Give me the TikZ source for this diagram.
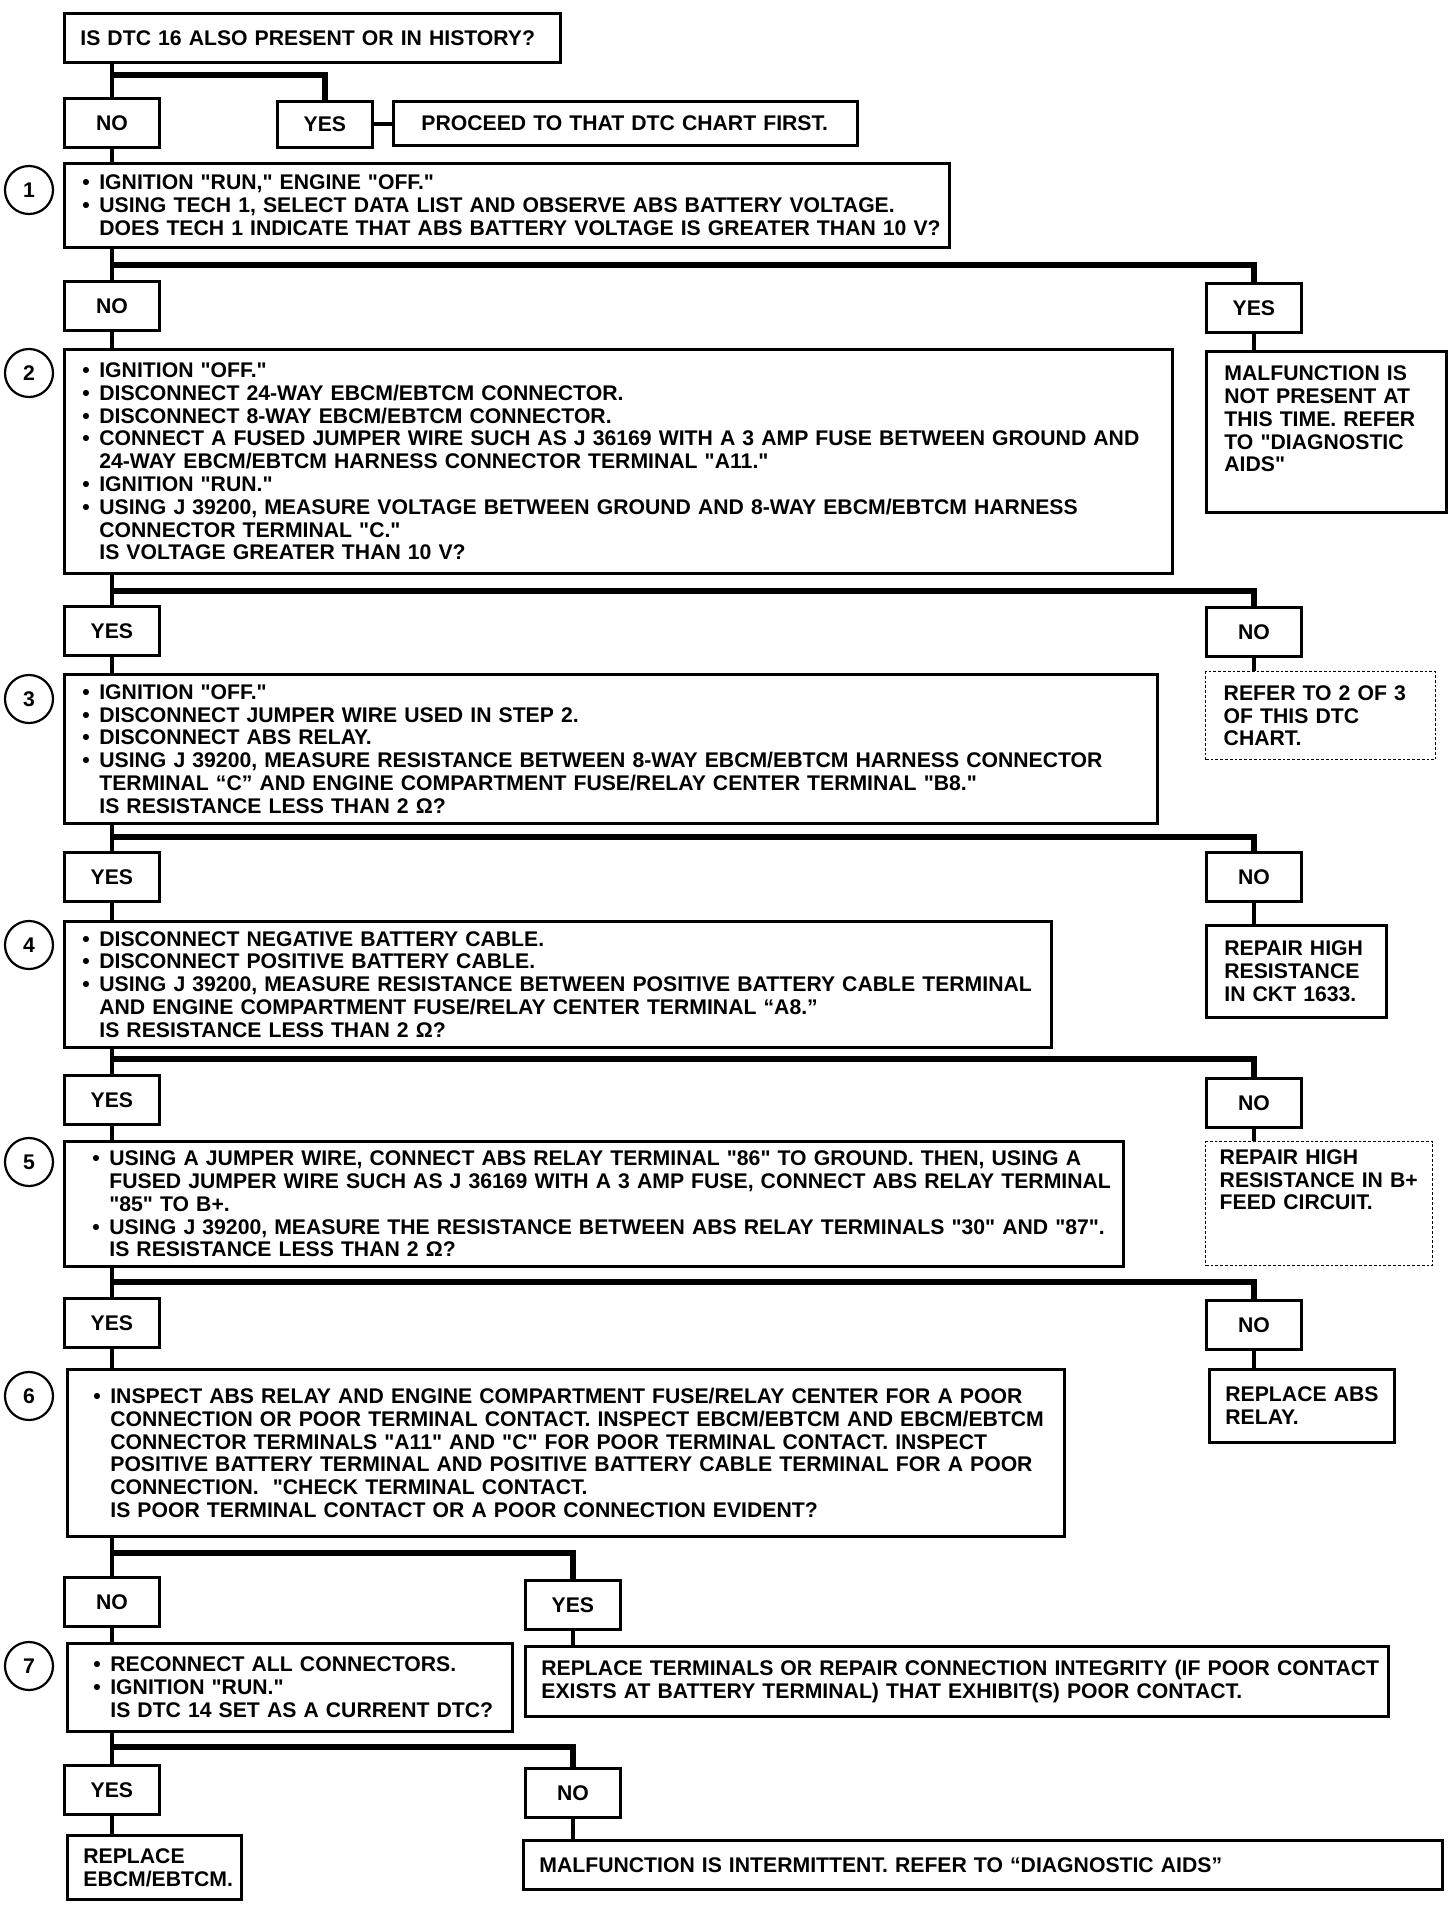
\documentclass[tikz,border=0pt]{standalone}
\usepackage{fontspec}
\setmainfont{Liberation Sans}[Ligatures=TeXOff]
\usepackage{tikz}
\usetikzlibrary{positioning}

\newcommand{\blt}[1]{\mbox{\makebox[0.8em][l]{•}#1}}
\newcommand{\cnt}[1]{\mbox{\hspace*{0.8em}#1}}

\begin{document}
\begin{tikzpicture}[x=0.5pt, y=-0.5pt,
    every node/.style={font=\bfseries\fontsize{10.6}{11.4}\selectfont},
    box/.style={draw, line width=1.4pt, anchor=north west, align=left, inner ysep=2pt},
    dbox/.style={box, densely dotted, line width=0.7pt},
    yn/.style={draw, line width=1.4pt, anchor=north west, minimum width=47.5pt, minimum height=24.5pt, inner sep=0pt},
    num/.style={draw, circle, line width=1.1pt, minimum size=24pt, inner sep=0pt},
    wire/.style={line width=2pt},
    branch/.style={line width=2.6pt}]
        \useasboundingbox (0,0) rectangle (1456,1908);

        % start
        \node (q0) [box, text width=232pt, minimum height=24.5pt, inner xsep=8pt] at (63,12) {IS DTC 16 ALSO PRESENT OR IN HISTORY?};
        \node (no0) [yn] at (63,97) {NO};
        \node (yes0) [yn, minimum height=23pt] at (276,100) {YES};
        \node (proceed) [box, text width=204pt, minimum height=22pt, inner xsep=14pt] at (392,100) {PROCEED TO THAT DTC CHART FIRST.};

        % step 1
        \node (s1) [num] at (29,190) {1};
        \node (box1) [box, text width=424.5pt, minimum height=42pt, inner xsep=9pt] at (63,162)
            {\blt{IGNITION "RUN," ENGINE "OFF."}\\
             \blt{USING TECH 1, SELECT DATA LIST AND OBSERVE ABS BATTERY VOLTAGE.}\\
             \cnt{DOES TECH 1 INDICATE THAT ABS BATTERY VOLTAGE IS GREATER THAN 10 V?}};
        \node (no1) [yn] at (63,280) {NO};
        \node (yes1) [yn] at (1205,282) {YES};
        \node (mal1) [box, text width=102pt, minimum height=80.5pt, inner xsep=9pt] at (1205,350)
            {MALFUNCTION IS\\ NOT PRESENT AT\\ THIS TIME. REFER\\ TO "DIAGNOSTIC\\ AIDS"\rule[-13pt]{0pt}{0pt}};

        % step 2
        \node (s2) [num] at (29,373) {2};
        \node (box2) [box, text width=536pt, minimum height=112pt, inner xsep=9pt] at (63,348)
            {\blt{IGNITION "OFF."}\\
             \blt{DISCONNECT 24-WAY EBCM/EBTCM CONNECTOR.}\\
             \blt{DISCONNECT 8-WAY EBCM/EBTCM CONNECTOR.}\\
             \blt{CONNECT A FUSED JUMPER WIRE SUCH AS J 36169 WITH A 3 AMP FUSE BETWEEN GROUND AND}\\
             \cnt{24-WAY EBCM/EBTCM HARNESS CONNECTOR TERMINAL "A11."}\\
             \blt{IGNITION "RUN."}\\
             \blt{USING J 39200, MEASURE VOLTAGE BETWEEN GROUND AND 8-WAY EBCM/EBTCM HARNESS}\\
             \cnt{CONNECTOR TERMINAL "C."}\\
             \cnt{IS VOLTAGE GREATER THAN 10 V?}};
        \node (yes2) [yn] at (63,605) {YES};
        \node (no2) [yn] at (1205,606) {NO};
        \node (refer) [dbox, text width=97pt, minimum height=44pt, inner xsep=9pt] at (1205,671)
            {REFER TO 2 OF 3\\ OF THIS DTC\\ CHART.};

        % step 3
        \node (s3) [num] at (29,699) {3};
        \node (box3) [box, text width=528.5pt, minimum height=74.5pt, inner xsep=9pt] at (63,673)
            {\blt{IGNITION "OFF."}\\
             \blt{DISCONNECT JUMPER WIRE USED IN STEP 2.}\\
             \blt{DISCONNECT ABS RELAY.}\\
             \blt{USING J 39200, MEASURE RESISTANCE BETWEEN 8-WAY EBCM/EBTCM HARNESS CONNECTOR}\\
             \cnt{TERMINAL “C” AND ENGINE COMPARTMENT FUSE/RELAY CENTER TERMINAL "B8."}\\
             \cnt{IS RESISTANCE LESS THAN 2 Ω?}};
        \node (yes3) [yn] at (63,851) {YES};
        \node (no3) [yn] at (1205,851) {NO};
        \node (repair1) [box, text width=72pt, minimum height=46pt, inner xsep=9pt] at (1205,924)
            {REPAIR HIGH\\ RESISTANCE\\ \mbox{IN CKT 1633.}};

        % step 4
        \node (s4) [num] at (29,945) {4};
        \node (box4) [box, text width=475.5pt, minimum height=63pt, inner xsep=9pt] at (63,920)
            {\blt{DISCONNECT NEGATIVE BATTERY CABLE.}\\
             \blt{DISCONNECT POSITIVE BATTERY CABLE.}\\
             \blt{USING J 39200, MEASURE RESISTANCE BETWEEN POSITIVE BATTERY CABLE TERMINAL}\\
             \cnt{AND ENGINE COMPARTMENT FUSE/RELAY CENTER TERMINAL “A8.”}\\
             \cnt{IS RESISTANCE LESS THAN 2 Ω?}};
        \node (yes4) [yn] at (63,1074) {YES};
        \node (no4) [yn] at (1205,1077) {NO};
        \node (repair2) [dbox, text width=99.5pt, minimum height=62pt, inner xsep=7pt] at (1205,1141)
            {REPAIR HIGH\\ \mbox{RESISTANCE IN B+}\\ FEED CIRCUIT.\rule[-24pt]{0pt}{0pt}};

        % step 5
        \node (s5) [num] at (29,1162) {5};
        \node (box5) [box, text width=501.5pt, minimum height=62.5pt, inner xsep=14pt] at (63,1140)
            {\blt{USING A JUMPER WIRE, CONNECT ABS RELAY TERMINAL "86" TO GROUND. THEN, USING A}\\
             \cnt{FUSED JUMPER WIRE SUCH AS J 36169 WITH A 3 AMP FUSE, CONNECT ABS RELAY TERMINAL}\\
             \cnt{"85" TO B+.}\\
             \blt{USING J 39200, MEASURE THE RESISTANCE BETWEEN ABS RELAY TERMINALS "30" AND "87".}\\
             \cnt{IS RESISTANCE LESS THAN 2 Ω?}};
        \node (yes5) [yn] at (63,1297) {YES};
        \node (no5) [yn] at (1205,1299) {NO};
        \node (relay) [box, text width=76.5pt, minimum height=36.5pt, inner xsep=8pt] at (1208,1368)
            {\mbox{REPLACE ABS}\\ RELAY.};

        % step 6
        \node (s6) [num] at (29,1396) {6};
        \node (box6) [box, text width=472.5pt, minimum height=83.5pt, inner xsep=13pt] at (66,1368)
            {\blt{INSPECT ABS RELAY AND ENGINE COMPARTMENT FUSE/RELAY CENTER FOR A POOR}\\
             \cnt{CONNECTION OR POOR TERMINAL CONTACT. INSPECT EBCM/EBTCM AND EBCM/EBTCM}\\
             \cnt{CONNECTOR TERMINALS "A11" AND "C" FOR POOR TERMINAL CONTACT. INSPECT}\\
             \cnt{POSITIVE BATTERY TERMINAL AND POSITIVE BATTERY CABLE TERMINAL FOR A POOR}\\
             \cnt{CONNECTION.\ \ "CHECK TERMINAL CONTACT.}\\
             \cnt{IS POOR TERMINAL CONTACT OR A POOR CONNECTION EVIDENT?}};
        \node (no6) [yn] at (63,1576) {NO};
        \node (yes6) [yn] at (524,1579) {YES};

        % step 7
        \node (s7) [num] at (29,1666) {7};
        \node (box7) [box, text width=196.5pt, minimum height=44pt, inner xsep=13pt] at (66,1642)
            {\blt{RECONNECT ALL CONNECTORS.}\\
             \blt{IGNITION "RUN."}\\
             \cnt{IS DTC 14 SET AS A CURRENT DTC?}};
        \node (term) [box, text width=415.5pt, minimum height=35pt, inner xsep=8pt] at (524,1645)
            {\mbox{REPLACE TERMINALS OR REPAIR CONNECTION INTEGRITY (IF POOR CONTACT}\\
             \mbox{EXISTS AT BATTERY TERMINAL) THAT EXHIBIT(S) POOR CONTACT.}};
        \node (yes7) [yn] at (63,1764) {YES};
        \node (no7) [yn] at (524,1767) {NO};
        \node (ebcm) [box, text width=71pt, minimum height=32pt, inner xsep=8pt] at (66,1834)
            {REPLACE\\ \mbox{EBCM/EBTCM.}};
        \node (intermit) [box, text width=443.5pt, minimum height=24.5pt, inner xsep=8pt] at (522,1839)
            {MALFUNCTION IS INTERMITTENT. REFER TO “DIAGNOSTIC AIDS”};

        % branch lines
        \coordinate (b0) at (0,75);
        \coordinate (b1) at (0,265);
        \coordinate (b2) at (0,591);
        \coordinate (b3) at (0,837);
        \coordinate (b4) at (0,1059);
        \coordinate (b5) at (0,1282);
        \coordinate (b6) at (0,1553);
        \coordinate (b7) at (0,1747);

        \draw[wire] (q0.south -| no0.north) -- (no0.north);
        \draw[branch] (b0 -| no0.north) -| (yes0.north);
        \draw[wire] (yes0.east) -- (yes0.east -| proceed.west);
        \draw[wire] (no0.south) -- (no0.south |- box1.north);

        \draw[wire] (box1.south -| no1.north) -- (no1.north);
        \draw[branch] (b1 -| no1.north) -| (yes1.north);
        \draw[wire] (yes1.south) -- (yes1.south |- mal1.north);
        \draw[wire] (no1.south) -- (no1.south |- box2.north);

        \draw[wire] (box2.south -| yes2.north) -- (yes2.north);
        \draw[branch] (b2 -| yes2.north) -| (no2.north);
        \draw[wire] (no2.south) -- (no2.south |- refer.north);
        \draw[wire] (yes2.south) -- (yes2.south |- box3.north);

        \draw[wire] (box3.south -| yes3.north) -- (yes3.north);
        \draw[branch] (b3 -| yes3.north) -| (no3.north);
        \draw[wire] (no3.south) -- (no3.south |- repair1.north);
        \draw[wire] (yes3.south) -- (yes3.south |- box4.north);

        \draw[wire] (box4.south -| yes4.north) -- (yes4.north);
        \draw[branch] (b4 -| yes4.north) -| (no4.north);
        \draw[wire] (no4.south) -- (no4.south |- repair2.north);
        \draw[wire] (yes4.south) -- (yes4.south |- box5.north);

        \draw[wire] (box5.south -| yes5.north) -- (yes5.north);
        \draw[branch] (b5 -| yes5.north) -| (no5.north);
        \draw[wire] (no5.south) -- (no5.south |- relay.north);
        \draw[wire] (yes5.south) -- (yes5.south |- box6.north);

        \draw[wire] (box6.south -| no6.north) -- (no6.north);
        \draw[branch] (b6 -| no6.north) -| (yes6.north);
        \draw[wire] (yes6.south) -- (yes6.south |- term.north);
        \draw[wire] (no6.south) -- (no6.south |- box7.north);

        \draw[wire] (box7.south -| yes7.north) -- (yes7.north);
        \draw[branch] (b7 -| yes7.north) -| (no7.north);
        \draw[wire] (no7.south) -- (no7.south |- intermit.north);
        \draw[wire] (yes7.south) -- (yes7.south |- ebcm.north);
\end{tikzpicture}
\end{document}
